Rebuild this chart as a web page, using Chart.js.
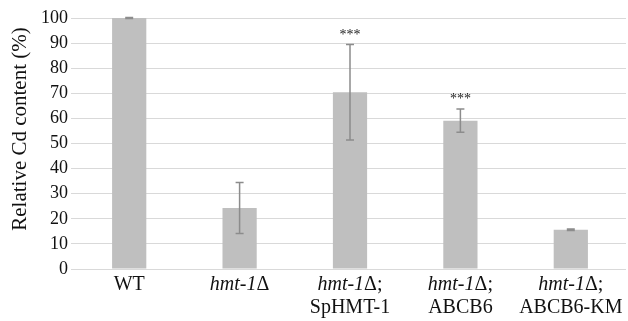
<!DOCTYPE html>
<html>
<head>
<meta charset="utf-8">
<script src="https://cdn.jsdelivr.net/npm/chart.js@4.4.0/dist/chart.umd.min.js"></script>
<style>
  html, body { margin: 0; padding: 0; background: #fff; }
  #wrap { width: 628px; height: 321px; position: relative; }
</style>
</head>
<body>
<div id="wrap"><canvas id="grafico"></canvas></div>
<script>
// datos
const categorias = ['WT', 'hmt-1\u0394', 'hmt-1\u0394;\nSpHMT-1', 'hmt-1\u0394;\nABCB6', 'hmt-1\u0394;\nABCB6-KM'];
const valores = [100, 24.3, 70.4, 59.1, 15.6];
const errores = [0.2, 10.2, 19.0, 4.6, 0.3];
const significancia = ['', '', '***', '***', ''];
const ticksY = [0, 10, 20, 30, 40, 50, 60, 70, 80, 90, 100];
const tituloY = 'Relative Cd content (%)';

const fuente = '"Liberation Serif", "Times New Roman", serif';

// barras de error y asteriscos
const pluginErrores = {
    id: 'errores',
    afterDatasetsDraw(chart) {
        const ctx = chart.ctx;
        const x = chart.scales.x;
        const y = chart.scales.y;
        ctx.save();
        ctx.strokeStyle = '#8c8c8c';
        ctx.lineWidth = 1.5;
        valores.forEach((v, i) => {
            const px = x.getPixelForValue(i);
            const arriba = y.getPixelForValue(v + errores[i]);
            const abajo = y.getPixelForValue(v - errores[i]);
            ctx.beginPath();
            ctx.moveTo(px, arriba); ctx.lineTo(px, abajo);
            ctx.moveTo(px - 4, arriba); ctx.lineTo(px + 4, arriba);
            ctx.moveTo(px - 4, abajo); ctx.lineTo(px + 4, abajo);
            ctx.stroke();
            if (significancia[i]) {
                ctx.fillStyle = '#222';
                ctx.font = '14px ' + fuente;
                ctx.textAlign = 'center';
                ctx.textBaseline = 'alphabetic';
                ctx.fillText(significancia[i], px, arriba - 6);
            }
        });
        ctx.restore();
    }
};

// etiquetas del eje x con "hmt-1" en cursiva, y titulo del eje y
const pluginEtiquetas = {
    id: 'etiquetas',
    afterDraw(chart) {
        const ctx = chart.ctx;
        const x = chart.scales.x;
        ctx.save();
        ctx.fillStyle = '#111';
        ctx.textBaseline = 'middle';
        ctx.textAlign = 'left';
        categorias.forEach((cat, i) => {
            const px = x.getPixelForValue(i);
            cat.split('\n').forEach((linea, j) => {
                const partes = [];
                if (linea.startsWith('hmt-1')) {
                    partes.push({ t: 'hmt-1', it: true });
                    partes.push({ t: linea.slice(5), it: false });
                } else {
                    partes.push({ t: linea, it: false });
                }
                let ancho = 0;
                partes.forEach(p => {
                    ctx.font = (p.it ? 'italic ' : '') + '20px ' + fuente;
                    p.w = ctx.measureText(p.t).width;
                    ancho += p.w;
                });
                let cx = px - ancho / 2;
                const cy = 285 + j * 23;
                partes.forEach(p => {
                    ctx.font = (p.it ? 'italic ' : '') + '20px ' + fuente;
                    ctx.fillText(p.t, cx, cy);
                    cx += p.w;
                });
            });
        });

        ctx.translate(20, 129);
        ctx.rotate(-Math.PI / 2);
        ctx.textAlign = 'center';
        ctx.textBaseline = 'middle';
        ctx.font = '21px ' + fuente;
        ctx.fillText(tituloY, 0, 0);
        ctx.restore();
    }
};

new Chart(document.getElementById('grafico'), {
    type: 'bar',
    data: {
        labels: categorias,
        datasets: [{
            data: valores,
            backgroundColor: '#bfbfbf',
            borderWidth: 0,
            barPercentage: 0.31,
            categoryPercentage: 1.0
        }]
    },
    options: {
        responsive: true,
        maintainAspectRatio: false,
        animation: false,
        layout: { padding: { top: 18, right: 2, left: 0, bottom: 0 } },
        plugins: {
            legend: { display: false },
            tooltip: { enabled: false }
        },
        scales: {
            x: {
                grid: { display: false },
                border: { display: false },
                ticks: { display: false },
                afterFit(scale) { scale.height = 52; }
            },
            y: {
                min: 0,
                max: 100,
                afterBuildTicks(scale) { scale.ticks = ticksY.map(v => ({ value: v })); },
                grid: { color: '#d9d9d9', lineWidth: 1, drawTicks: true, tickLength: 3 },
                border: { display: false },
                ticks: {
                    color: '#111',
                    padding: 3,
                    font: { family: fuente, size: 18 }
                },
                afterFit(scale) { scale.width = 74; }
            }
        }
    },
    plugins: [pluginErrores, pluginEtiquetas]
});
</script>
</body>
</html>
